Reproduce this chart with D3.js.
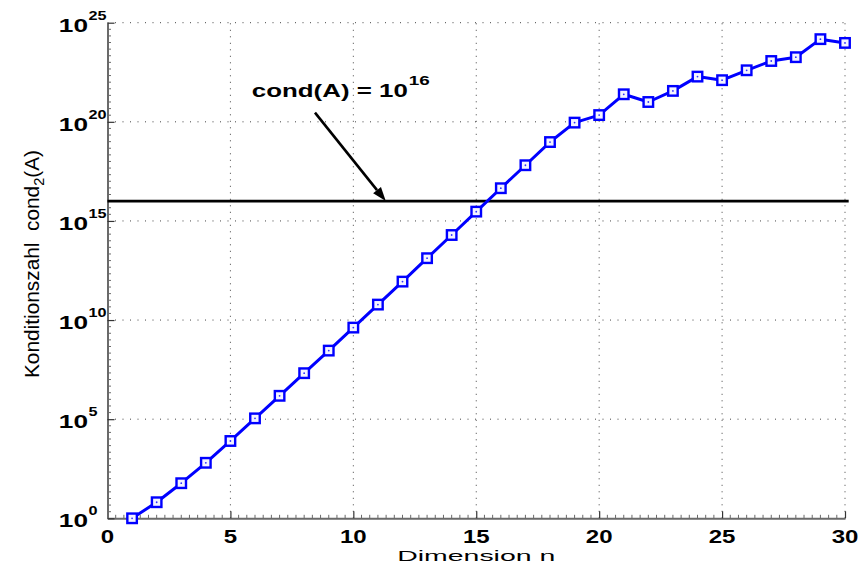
<!DOCTYPE html>
<html>
<head>
<meta charset="utf-8">
<script src="https://cdn.jsdelivr.net/npm/d3@7"></script>
<style>
  html, body { margin: 0; padding: 0; background: #fff; }
  svg { display: block; }
  text { font-family: "Liberation Sans", Arial, Helvetica, sans-serif; fill: #000; }
</style>
</head>
<body>
<svg id="chart" width="858" height="569"></svg>
<script>
// Dimension n of the test matrices
const dimensions = d3.range(1, 31);
// 2-norm condition numbers cond_2(A) for n = 1..30
const condValues = [
  1, 6.46, 58.9, 631, 7.94e3, 1.10e5, 1.51e6, 2.09e7, 2.88e8, 4.17e9,
  6.03e10, 8.71e11, 1.32e13, 1.95e14, 2.95e15, 4.47e16, 6.46e17, 9.55e18, 9.12e19, 2.19e20,
  2.45e21, 1.0e21, 3.63e21, 1.91e22, 1.26e22, 3.98e22, 1.17e23, 1.82e23, 1.48e24, 9.55e23
];
const xTicks = [0, 5, 10, 15, 20, 25, 30];
const yTickExponents = [0, 5, 10, 15, 20, 25];
// machine-precision threshold line and its annotation
const thresholdValue = 1e16;
const thresholdSpan = [0, 30.15];
const annotationText = "cond(A) = 10";
const annotationExponent = "16";
const annotationAnchor = { x: 5.87, y: 1.8e21 };
const arrowTail = { x: 8.44, y: 2.9e20 };
const arrowTip = { x: 11.32, y: thresholdValue };
const xLabel = "Dimension n";
const yLabelParts = ["Konditionszahl\u00a0\u00a0cond", "2", "(A)"];

const svg = d3.select("#chart");
const plot = { left: 107.5, right: 845, top: 22.7, bottom: 518.3 };
const stretch = 1.3;

const x = d3.scaleLinear().domain([0, 30]).range([plot.left, plot.right]);
const y = d3.scaleLog().domain([1, 1e25]).range([plot.bottom, plot.top]);

// dotted grid at the major ticks
const grid = svg.append("g");
grid.selectAll(".gx").data(xTicks.filter(d => d > 0)).join("line")
  .attr("x1", d => x(d)).attr("x2", d => x(d))
  .attr("y1", plot.bottom).attr("y2", plot.top)
  .attr("stroke", "#444").attr("stroke-width", 1)
  .attr("stroke-dasharray", "1,5.5");
grid.selectAll(".gy").data(yTickExponents.filter(d => d > 0)).join("line")
  .attr("x1", plot.left).attr("x2", plot.right)
  .attr("y1", d => y(Math.pow(10, d))).attr("y2", d => y(Math.pow(10, d)))
  .attr("stroke", "#444").attr("stroke-width", 1)
  .attr("stroke-dasharray", "1,6.5");

// axes (left and bottom only), ticks pointing inward
const axisColor = "#6a6a6a";
const xAxis = d3.axisBottom(x).tickValues(xTicks).tickSizeInner(-7).tickSizeOuter(0).tickFormat("");
const gx = svg.append("g").attr("transform", `translate(0,${plot.bottom})`).call(xAxis);
const xMinor = d3.range(0, 30.001, 1 / 3).filter(d => Math.abs(d / 5 - Math.round(d / 5)) > 1e-6);
gx.selectAll(".minor").data(xMinor).join("line").attr("class", "minor")
  .attr("x1", d => x(d)).attr("x2", d => x(d)).attr("y1", 0).attr("y2", -3.5)
  .attr("stroke", axisColor).attr("stroke-width", 1);

const yAxis = d3.axisLeft(y).tickValues(yTickExponents.map(e => Math.pow(10, e)))
  .tickSizeInner(-7).tickSizeOuter(0).tickFormat("");
const gy = svg.append("g").attr("transform", `translate(${plot.left},0)`).call(yAxis);
const yMinor = d3.range(0, 25.001, 1 / 3).filter(d => Math.abs(d - Math.round(d)) > 1e-6 || Math.round(d) % 5 !== 0);
gy.selectAll(".minor").data(yMinor).join("line").attr("class", "minor")
  .attr("x1", 0).attr("x2", 3.5)
  .attr("y1", d => y(Math.pow(10, d))).attr("y2", d => y(Math.pow(10, d)))
  .attr("stroke", axisColor).attr("stroke-width", 1);

[gx, gy].forEach(g => {
  g.select(".domain").attr("stroke", axisColor).attr("stroke-width", 2);
  g.selectAll(".tick line").attr("stroke", "#333").attr("stroke-width", 1.2);
});

// tick labels
svg.append("g").selectAll("text").data(xTicks).join("text")
  .attr("transform", d => `translate(${x(d)},${plot.bottom + 24.4}) scale(${stretch},1)`)
  .attr("text-anchor", "middle").attr("font-weight", "bold").attr("font-size", 18.5)
  .text(d => d);

const yl = svg.append("g");
yl.selectAll(".base").data(yTickExponents).join("text").attr("class", "base")
  .attr("transform", d => `translate(88,${y(Math.pow(10, d)) + 9}) scale(1.42,1)`)
  .attr("text-anchor", "end").attr("font-weight", "bold").attr("font-size", 18.5)
  .text("10");
yl.selectAll(".exp").data(yTickExponents).join("text").attr("class", "exp")
  .attr("transform", d => `translate(88.5,${y(Math.pow(10, d)) - 3}) scale(${stretch},1)`)
  .attr("text-anchor", "start").attr("font-weight", "bold").attr("font-size", 12.5)
  .text(d => d);

// threshold line
svg.append("line")
  .attr("x1", x(thresholdSpan[0])).attr("x2", x(thresholdSpan[1]))
  .attr("y1", y(thresholdValue)).attr("y2", y(thresholdValue))
  .attr("stroke", "#000").attr("stroke-width", 2.6);

// condition number curve with square markers
const line = d3.line().x((d, i) => x(dimensions[i])).y(d => y(d));
svg.append("path").datum(condValues)
  .attr("d", line).attr("fill", "none")
  .attr("stroke", "#0000ff").attr("stroke-width", 3).attr("stroke-linejoin", "round");
const mk = 9.5;
svg.append("g").selectAll("rect").data(condValues).join("rect")
  .attr("x", (d, i) => x(dimensions[i]) - mk / 2).attr("y", d => y(d) - mk / 2)
  .attr("width", mk).attr("height", mk)
  .attr("fill", "#f4f4ff").attr("stroke", "#0000ff").attr("stroke-width", 2.4);
svg.append("g").selectAll("circle").data(condValues).join("circle")
  .attr("cx", (d, i) => x(dimensions[i])).attr("cy", d => y(d)).attr("r", 0.9)
  .attr("fill", "#3333ff");

// annotation with arrow
svg.append("text")
  .attr("x", x(annotationAnchor.x)).attr("y", y(annotationAnchor.y))
  .attr("font-weight", "bold").attr("font-size", 19)
  .attr("textLength", 156).attr("lengthAdjust", "spacingAndGlyphs")
  .text(annotationText);
svg.append("text")
  .attr("x", x(annotationAnchor.x) + 157).attr("y", y(annotationAnchor.y) - 11.5)
  .attr("font-weight", "bold").attr("font-size", 13)
  .attr("textLength", 21).attr("lengthAdjust", "spacingAndGlyphs")
  .text(annotationExponent);

const tx = x(arrowTail.x), ty = y(arrowTail.y), hx = x(arrowTip.x), hy = y(arrowTip.y);
const ang = Math.atan2(hy - ty, hx - tx);
const headLen = 14, headHalf = 5;
const bx = hx - headLen * Math.cos(ang), by = hy - headLen * Math.sin(ang);
svg.append("line").attr("x1", tx).attr("y1", ty).attr("x2", bx).attr("y2", by)
  .attr("stroke", "#000").attr("stroke-width", 2.6);
svg.append("path")
  .attr("d", `M${hx},${hy}L${bx + headHalf * Math.sin(ang)},${by - headHalf * Math.cos(ang)}L${bx - headHalf * Math.sin(ang)},${by + headHalf * Math.cos(ang)}Z`)
  .attr("fill", "#000");

// axis titles
svg.append("text")
  .attr("x", (plot.left + plot.right) / 2).attr("y", 561)
  .attr("text-anchor", "middle").attr("font-size", 15)
  .attr("textLength", 158).attr("lengthAdjust", "spacingAndGlyphs")
  .text(xLabel);

// rotated y title, sized so that it spans its slot along the axis
const ylab = svg.append("text")
  .attr("transform", `translate(39,264) rotate(-90)`)
  .attr("text-anchor", "middle").attr("font-size", 16);
ylab.append("tspan").text(yLabelParts[0]);
const sub = ylab.append("tspan").attr("font-size", 11).attr("dy", 4).text(yLabelParts[1]);
ylab.append("tspan").attr("dy", -4).text(yLabelParts[2]);
const ylen = ylab.node().getComputedTextLength();
const yfs = 16 * 228 / ylen;
ylab.attr("font-size", yfs);
sub.attr("font-size", yfs * 0.7).attr("dy", yfs * 0.25);
ylab.select("tspan:last-child").attr("dy", -yfs * 0.25);
</script>
</body>
</html>
